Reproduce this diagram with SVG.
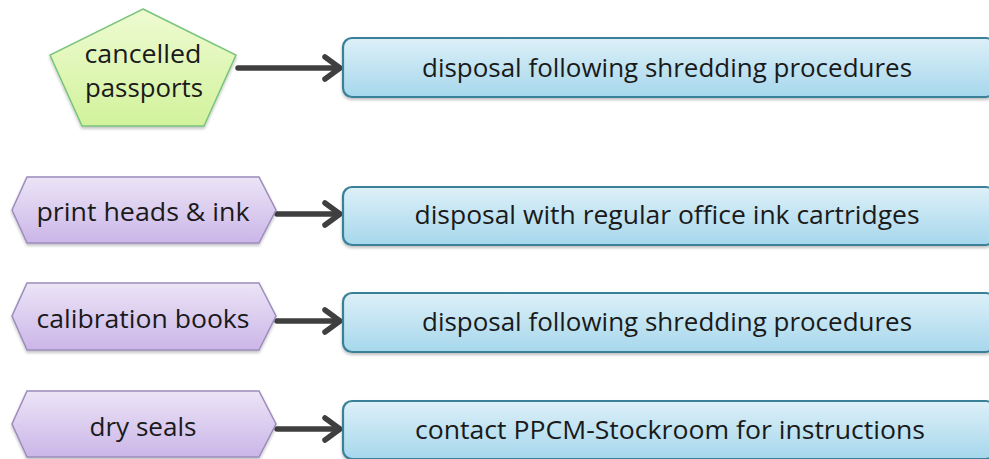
<svg xmlns="http://www.w3.org/2000/svg" width="989" height="459" viewBox="0 0 989 459">
  <defs>
    <linearGradient id="gBox" x1="0" y1="0" x2="0" y2="1">
      <stop offset="0" stop-color="#ddf0f8"/>
      <stop offset="1" stop-color="#a6d7ec"/>
    </linearGradient>
    <linearGradient id="gHex" x1="0" y1="0" x2="0" y2="1">
      <stop offset="0" stop-color="#ece4f6"/>
      <stop offset="1" stop-color="#cbb6e8"/>
    </linearGradient>
    <linearGradient id="gPent" x1="0" y1="0" x2="0" y2="1">
      <stop offset="0" stop-color="#eefbd2"/>
      <stop offset="1" stop-color="#d2f29c"/>
    </linearGradient>
    <filter id="shadow" x="-5%" y="-10%" width="110%" height="130%">
      <feGaussianBlur in="SourceAlpha" stdDeviation="1.5"/>
      <feOffset dx="0" dy="2" result="b"/>
      <feComponentTransfer><feFuncA type="linear" slope="0.25"/></feComponentTransfer>
      <feMerge><feMergeNode/><feMergeNode in="SourceGraphic"/></feMerge>
    </filter>
  </defs>
  <style>
    .box { fill: url(#gBox); stroke: #3a8099; stroke-width: 2.2; filter: url(#shadow); }
    .hex { fill: url(#gHex); stroke: #9c8cbc; stroke-width: 1.5; filter: url(#shadow); }
    .pent { fill: url(#gPent); stroke: #78c47a; stroke-width: 1.5; filter: url(#shadow); }
    .lbl { font-family: "Open Sans", "Liberation Sans", sans-serif; font-size: 25px; fill: #1a1a1a; text-anchor: middle; }
    .arrow { fill: none; stroke: #3f3f3f; stroke-width: 5.5; stroke-linecap: round; stroke-linejoin: round; }
  </style>

  <!-- connectors -->
  <g id="connectors">
    <g id="c1"><line class="arrow" x1="238" y1="68" x2="339" y2="68"/><polyline class="arrow" points="325,57 340,68 325,79"/></g>
    <g id="c2"><line class="arrow" x1="277" y1="214" x2="339" y2="214"/><polyline class="arrow" points="325,203 340,214 325,225"/></g>
    <g id="c3"><line class="arrow" x1="277" y1="321" x2="339" y2="321"/><polyline class="arrow" points="325,310 340,321 325,332"/></g>
    <g id="c4"><line class="arrow" x1="277" y1="429" x2="339" y2="429"/><polyline class="arrow" points="325,418 340,429 325,440"/></g>
  </g>

  <!-- source items -->
  <g id="cancelled-passports">
    <polygon class="pent" points="143,9 236,55 204,126 82,126 50,55"/>
    <text class="lbl" x="143" y="63" textLength="117" lengthAdjust="spacingAndGlyphs">cancelled</text>
    <text class="lbl" x="144" y="97" textLength="118" lengthAdjust="spacingAndGlyphs">passports</text>
  </g>
  <g id="print-heads">
    <polygon class="hex" points="27,177 259,177 276,210 259,243 27,243 12,210"/>
    <text class="lbl" x="143" y="221" textLength="213" lengthAdjust="spacingAndGlyphs">print heads &amp; ink</text>
  </g>
  <g id="calibration-books">
    <polygon class="hex" points="27,283 259,283 276,316 259,350 27,350 12,316"/>
    <text class="lbl" x="143" y="328" textLength="213" lengthAdjust="spacingAndGlyphs">calibration books</text>
  </g>
  <g id="dry-seals">
    <polygon class="hex" points="27,391 259,391 276,424 259,457 27,457 12,424"/>
    <text class="lbl" x="143" y="436" textLength="107" lengthAdjust="spacingAndGlyphs">dry seals</text>
  </g>

  <!-- disposal actions -->
  <g id="action-1">
    <rect class="box" x="343" y="38" width="652" height="59" rx="9"/>
    <text class="lbl" x="667" y="77" textLength="490" lengthAdjust="spacingAndGlyphs">disposal following shredding procedures</text>
  </g>
  <g id="action-2">
    <rect class="box" x="343" y="187" width="652" height="58" rx="9"/>
    <text class="lbl" x="667" y="224" textLength="505" lengthAdjust="spacingAndGlyphs">disposal with regular office ink cartridges</text>
  </g>
  <g id="action-3">
    <rect class="box" x="343" y="293" width="652" height="59" rx="9"/>
    <text class="lbl" x="667" y="331" textLength="490" lengthAdjust="spacingAndGlyphs">disposal following shredding procedures</text>
  </g>
  <g id="action-4">
    <rect class="box" x="343" y="401" width="652" height="58" rx="9"/>
    <text class="lbl" x="670" y="439" textLength="510" lengthAdjust="spacingAndGlyphs">contact PPCM-Stockroom for instructions</text>
  </g>
</svg>
